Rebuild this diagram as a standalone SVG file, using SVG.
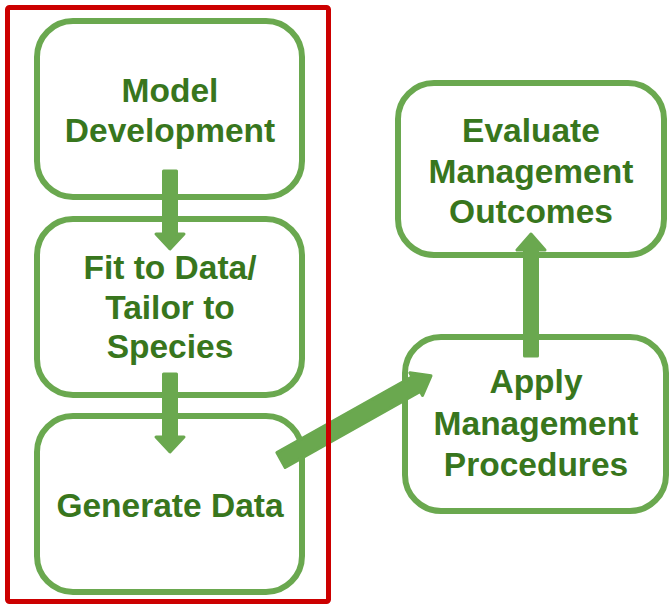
<svg xmlns="http://www.w3.org/2000/svg" width="670" height="606" viewBox="0 0 670 606">
<style>
.box{fill:#fff;stroke:#6aa84f;stroke-width:6}
.lbl{font-family:"Liberation Sans",Arial,sans-serif;font-weight:bold;font-size:33.5px;fill:#38761d;text-anchor:middle}
.arr{fill:#6aa84f;stroke:#6aa84f;stroke-width:3;stroke-linejoin:round}
.frame{fill:none;stroke:#cc0000;stroke-width:5}
</style>
<rect width="670" height="606" fill="#fff"/>
<g id="model-development">
<rect class="box" x="37" y="21" width="265" height="176" rx="36"/>
<text class="lbl" x="170" y="102">Model</text>
<text class="lbl" x="170" y="142">Development</text>
</g>
<g id="fit-to-data">
<rect class="box" x="37" y="219" width="265" height="176" rx="36"/>
<text class="lbl" x="170" y="279">Fit to Data/</text>
<text class="lbl" x="170" y="319">Tailor to</text>
<text class="lbl" x="170" y="358">Species</text>
</g>
<g id="generate-data">
<rect class="box" x="37" y="416" width="265" height="176" rx="36"/>
<text class="lbl" x="170" y="517">Generate Data</text>
</g>
<g id="evaluate">
<rect class="box" x="398" y="83" width="266" height="172" rx="36"/>
<text class="lbl" x="531" y="142">Evaluate</text>
<text class="lbl" x="531" y="183">Management</text>
<text class="lbl" x="531" y="223">Outcomes</text>
</g>
<g id="apply">
<rect class="box" x="405" y="337" width="261" height="174" rx="36"/>
<text class="lbl" x="536" y="393">Apply</text>
<text class="lbl" x="536" y="435">Management</text>
<text class="lbl" x="536" y="476">Procedures</text>
</g>
<g id="connectors">
<polygon class="arr" points="163.5,171 176.5,171 176.5,234 184,234 170,249 156,234 163.5,234"/>
<polygon class="arr" points="163.5,374 176.5,374 176.5,437 184,437 170,452 156,437 163.5,437"/>
<polygon class="arr" points="524.5,356 537.5,356 537.5,250 545,250 531,234 517,250 524.5,250"/>
<g transform="translate(281,460) rotate(-29.3)">
<polygon class="arr" points="0,-8.5 155,-8.5 155,-13 172,0 155,13 155,8.5 0,8.5"/>
</g>
</g>
<rect class="frame" x="7.5" y="7.5" width="321" height="594" rx="2"/>
</svg>
